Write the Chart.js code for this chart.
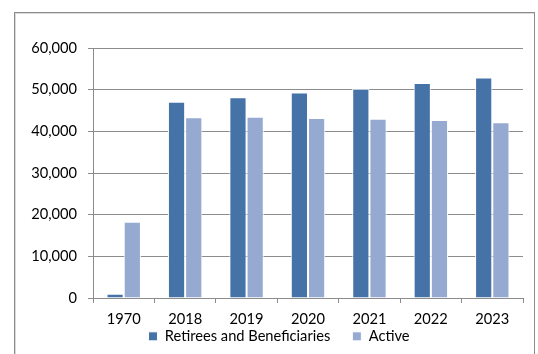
<!DOCTYPE html>
<html>
<head>
<meta charset="utf-8">
<script src="https://cdn.jsdelivr.net/npm/chart.js@4/dist/chart.umd.min.js"></script>
<style>
  html, body { margin: 0; padding: 0; background: #fff; }
  #wrap { position: relative; width: 538px; height: 354px; overflow: hidden; }
  #frame {
    position: absolute; left: 14px; top: 12px; width: 519px; height: 360px;
    border: 1px solid #8c8c8c; box-shadow: inset 1px 1px 0 #d9d9d9;
  }
  canvas { position: absolute; left: 0; top: 0; }
</style>
</head>
<body>
<div id="wrap">
  <div id="frame"></div>
  <canvas id="grafico" width="538" height="354"></canvas>
</div>
<script>
const years = ["1970", "2018", "2019", "2020", "2021", "2022", "2023"];
const retirees = [1000, 47100, 48200, 49300, 50200, 51600, 52950];
const active = [18300, 43400, 43500, 43200, 43050, 42750, 42200];
const yTicks = [0, 10000, 20000, 30000, 40000, 50000, 60000];

const gridGray = "#8c8c8c";
const fuente = { family: "Lato, 'Open Sans', sans-serif", size: 14.67 };

Chart.defaults.color = "#000";
Chart.defaults.font = fuente;

// nudge the legend: a bit right of the canvas centre and tucked under the years
const moverLeyenda = {
  id: "moverLeyenda",
  afterLayout(chart) {
    chart.legend.left += 35;
    chart.legend.top -= 22;
  }
};

const ctx = document.getElementById("grafico").getContext("2d");

new Chart(ctx, {
  type: "bar",
  data: {
    labels: years,
    datasets: [
      {
        label: "Retirees and Beneficiaries",
        data: retirees,
        backgroundColor: "#4572A7",
        borderColor: "#ffffff",
        borderWidth: 1,
        borderSkipped: "bottom"
      },
      {
        label: "Active",
        data: active,
        backgroundColor: "#95A9D1",
        borderColor: "#ffffff",
        borderWidth: 1,
        borderSkipped: "bottom"
      }
    ]
  },
  options: {
    responsive: false,
    animation: false,
    layout: { padding: { left: 0, right: 15, top: 48, bottom: 0 } },
    datasets: { bar: { categoryPercentage: 0.56, barPercentage: 1 } },
    plugins: {
      legend: {
        position: "bottom",
        maxHeight: 25,
        labels: {
          boxWidth: 9,
          boxHeight: 9,
          padding: 22,
          font: fuente,
          color: "#000"
        }
      },
      tooltip: { enabled: false }
    },
    scales: {
      x: {
        grid: {
          drawOnChartArea: false,
          drawTicks: true,
          tickLength: 5,
          color: gridGray
        },
        border: { color: gridGray },
        ticks: { padding: 7, autoSkip: false, maxRotation: 0, font: fuente, color: "#000" },
        afterFit: function (scale) { scale.height = 31; }
      },
      y: {
        min: 0,
        max: 60000,
        afterBuildTicks: function (scale) {
          scale.ticks = yTicks.map(v => ({ value: v }));
        },
        grid: { color: gridGray, tickLength: 5 },
        border: { color: gridGray },
        ticks: {
          padding: 11,
          font: fuente,
          color: "#000",
          callback: function (value) {
            return value.toLocaleString("en-US");
          }
        },
        afterFit: function (scale) { scale.width = 93; }
      }
    }
  },
  plugins: [moverLeyenda]
});
</script>
</body>
</html>
